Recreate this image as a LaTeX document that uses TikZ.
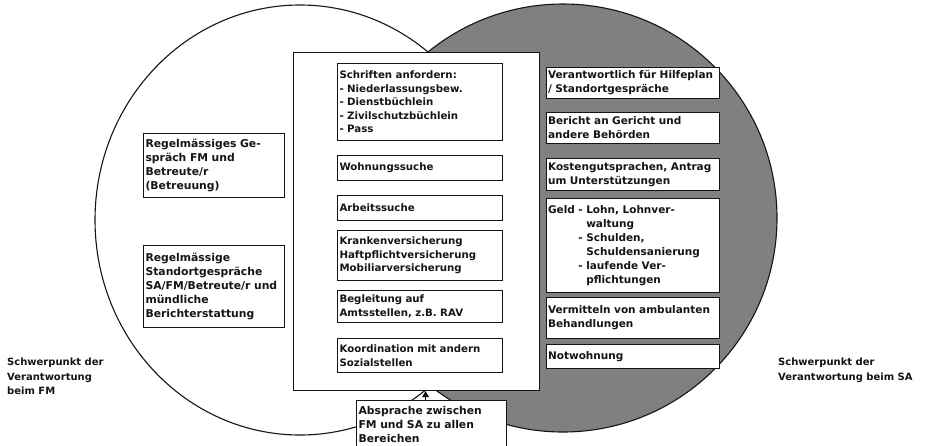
\documentclass[tikz,border=0pt]{standalone}
\usepackage{fontspec}
\setsansfont{DejaVu Sans}
\usetikzlibrary{arrows.meta}
\definecolor{ink}{HTML}{151515}
\definecolor{dots}{HTML}{808080}
\tikzset{
  bx/.style={draw=ink, fill=white, line width=1.1pt, anchor=north west, inner sep=2pt,
    align=left, text=ink, font=\sffamily\bfseries\fontsize{10.8}{14}\selectfont},
  rbx/.style={bx, inner sep=1.5pt, text width=170pt, minimum height=#1,
    font=\sffamily\bfseries\fontsize{10.5}{14}\selectfont},
  cbx/.style={bx, text width=161pt, minimum height=#1, font=\sffamily\bfseries\fontsize{10.2}{13.5}\selectfont},
  lbx/.style={bx, text width=137pt, minimum height=#1},
  frame/.style={draw=ink, fill=white, line width=1pt, anchor=north west, inner sep=0pt},
  side/.style={anchor=north west, inner sep=0pt, align=left, text=ink,
    font=\sffamily\bfseries\fontsize{10}{14.5}\selectfont},
  up/.style={-{Triangle[length=6pt,width=6.5pt]}, line width=1.6pt, color=ink},
}

\begin{document}
\begin{tikzpicture}[x=1pt,y=-1pt]
  \fill[white] (0,0) rectangle (925,445);
  \useasboundingbox (0,0) rectangle (925,445);
  \draw[ink, line width=1.1pt] (300,220) ellipse [x radius=205pt, y radius=215pt];
  \filldraw[fill=dots, draw=ink, line width=1.1pt] (563,218) circle [radius=214pt];
  \node[frame, minimum width=246pt, minimum height=338pt] (ctr) at (293,52) {};
  \foreach \nm/\y/\h/\txt in {
      schriften/63/77/{Schriften anfordern:\\- Niederlassungsbew.\\- Dienstbüchlein\\- Zivilschutzbüchlein\\- Pass},
      wohnung/155/25/{Wohnungssuche},
      arbeit/195/25/{Arbeitssuche},
      versich/230/50/{Krankenversicherung\\Haftpflichtversicherung\\Mobiliarversicherung},
      begleit/290/32/{Begleitung auf\\Amtsstellen, z.B. RAV},
      koord/338/34/{Koordination mit andern\\Sozialstellen}}
    \node[cbx=\h pt] (\nm) at (337,\y) {\txt};
  \foreach \nm/\y/\h/\txt in {
      hilfe/67/31/{Verantwortlich für Hilfeplan\\/ Standortgespräche},
      bericht/112/31/{Bericht an Gericht und\\andere Behörden},
      kosten/158/32/{Kostengutsprachen, Antrag\\um Unterstützungen},
      geld/198/94/{Geld - Lohn, Lohnver-\\\phantom{Geld - }waltung\\\phantom{Geld - }\llap{- }Schulden,\\\phantom{Geld - }Schuldensanierung\\\phantom{Geld - }\llap{- }laufende Ver-\\\phantom{Geld - }pflichtungen},
      ambulant/297/41/{Vermitteln von ambulanten\\Behandlungen},
      notwohn/344/24/{Notwohnung}}
    \node[rbx=\h pt] (\nm) at (546,\y) {\txt};
  \node[lbx=64pt] (gespraech) at (143,133) {Regelmässiges Ge-\\spräch FM und\\Betreute/r\\(Betreuung)};
  \node[lbx=82pt] (standort) at (143,245) {Regelmässige\\Standortgespräche\\SA/FM/Betreute/r und\\mündliche\\Berichterstattung};
  \node[bx, text width=146pt, minimum height=48pt] (absp) at (356,400) {Absprache zwischen\\FM und SA zu allen\\Bereichen};
  \coordinate (tail) at ([xshift=-6pt]absp.north);
  \draw[up] (tail) -- (tail |- ctr.south);
  \node[side] (fmlab) at (7,358) {Schwerpunkt der\\Verantwortung\\beim FM};
  \node[side] (salab) at (778,358) {Schwerpunkt der\\Verantwortung beim SA};
\end{tikzpicture}
\end{document}
